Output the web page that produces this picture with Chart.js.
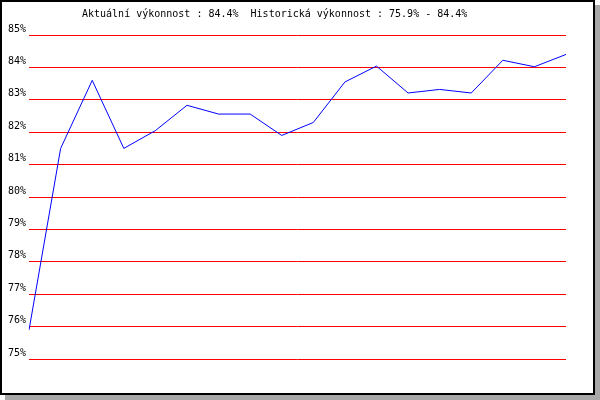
<!DOCTYPE html>
<html lang="cs">
<head>
  <meta charset="UTF-8">
  <title>Výkonnost</title>
  <style>
    body {
      margin: 0;
      background-color: white;
    }
    .frame {
      position: absolute;
      left: 0;
      top: 0;
      width: 595px;
      height: 395px;
      box-sizing: border-box;
      border: 2px solid black;
      box-shadow: 5px 5px 0 #a8a8a8;
      background-color: white;
    }
    #chart {
      display: block;
    }
  </style>
</head>
<body>
  <div class="frame">
    <canvas id="chart" width="591" height="391"></canvas>
  </div>

  <script src="https://cdn.jsdelivr.net/npm/chart.js@4.4.0/dist/chart.umd.min.js"></script>
  <script>
    const TITLE = 'Aktuální výkonnost : 84.4%  Historická výkonnost : 75.9% - 84.4%';
    const PERIODS = ['1', '2', '3', '4', '5', '6', '7', '8', '9', '10', '11', '12', '13', '14', '15', '16', '17', '18'];
    const PERFORMANCE = [75.9, 81.5, 83.6, 81.5, 82.05, 82.83, 82.56, 82.56, 81.9, 82.3, 83.55, 84.04, 83.21, 83.32, 83.21, 84.22, 84.02, 84.4];
    const Y_MIN = 75;
    const Y_MAX = 85;

    const FONT = { family: 'DejaVu Sans Mono', size: 10 };

    // title drawn at a fixed spot, like the original
    const titlePlugin = {
      id: 'fixedTitle',
      afterDraw(chart) {
        const ctx = chart.ctx;
        ctx.save();
        ctx.font = '10px "DejaVu Sans Mono"';
        ctx.fillStyle = 'black';
        ctx.textAlign = 'left';
        ctx.textBaseline = 'alphabetic';
        ctx.fillText(TITLE, 80, 15);
        ctx.restore();
      }
    };

    new Chart(document.getElementById('chart'), {
      type: 'line',
      data: {
        labels: PERIODS,
        datasets: [
          {
            data: PERFORMANCE,
            borderColor: '#0000ff',
            borderWidth: 1,
            pointRadius: 0,
            tension: 0,
            fill: false
          }
        ]
      },
      plugins: [titlePlugin],
      options: {
        responsive: false,
        animation: false,
        layout: {
          padding: { left: 3, right: 27, top: 33, bottom: 34 }
        },
        plugins: {
          legend: { display: false },
          tooltip: { enabled: false }
        },
        scales: {
          x: {
            display: false
          },
          y: {
            min: Y_MIN,
            max: Y_MAX,
            border: { display: false },
            grid: {
              color: '#ff0000',
              lineWidth: 1,
              drawTicks: false
            },
            ticks: {
              stepSize: 1,
              padding: 3,
              labelOffset: -6,
              color: 'black',
              font: FONT,
              callback: (v) => v + '%'
            }
          }
        }
      }
    });
  </script>
</body>
</html>
